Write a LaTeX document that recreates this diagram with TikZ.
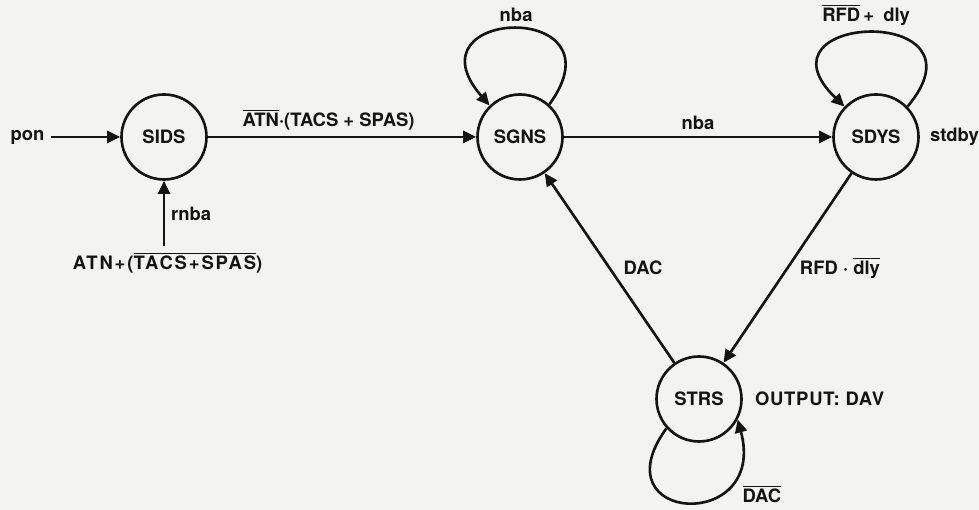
\documentclass[tikz,border=0pt]{standalone}
\usepackage{fontspec}
\setmainfont{TeX Gyre Heros}
\usetikzlibrary{arrows.meta,positioning,calc}
\definecolor{Ink}{HTML}{141414}
\definecolor{Paper}{HTML}{F3F3F1}
\newcommand{\Neg}[1]{$\overline{\mbox{#1}}$}

\begin{document}
\begin{tikzpicture}[
  state/.style={circle,draw=Ink,line width=1.5pt,minimum size=1.7cm,inner sep=0pt},
  trans/.style={draw=Ink,line width=1.5pt,-{Triangle[length=2.6mm,width=2.4mm]}},
  lbl/.style={font=\fontsize{10.5}{12}\selectfont\bfseries,text=Ink}
]
\fill[Paper] (0,0) rectangle (19.58,10.2);
\useasboundingbox (0,0) rectangle (19.58,10.2);
% states
\node[state,lbl] (SIDS) at (3.28,7.46) {SIDS};
\node[state,lbl] (SGNS) at (10.40,7.46) {SGNS};
\node[state,lbl] (SDYS) at (17.52,7.46) {SDYS};
\node[state,lbl] (STRS) at (13.98,2.22) {STRS};
% inputs and outputs
\node[lbl] (pon) at (0.55,7.46) {pon};
\node[lbl] (reset) at (3.35,4.94) {\addfontfeature{LetterSpace=10}ATN+(\Neg{TACS+SPAS})};
\node[lbl,right=0.08cm of SDYS] (stdby) {stdby};
\node[lbl,right=0.12cm of STRS] (output) {\addfontfeature{LetterSpace=4}OUTPUT: DAV};
% transitions
\draw[trans] (pon) -- (SIDS);
\draw[trans] (reset.north -| SIDS.south) -- node[lbl,right] {rnba} (SIDS);
\draw[trans] (SIDS) -- node[lbl,above,pos=0.45] {\Neg{ATN}\textperiodcentered(TACS + SPAS)} (SGNS);
\draw[trans] (SGNS) -- node[lbl,above] {nba} (SDYS);
\draw[trans] (SDYS) -- node[lbl,right=3pt] {RFD \textperiodcentered\ \Neg{dly}} (STRS);
\draw[trans] (STRS) -- node[lbl,right=4pt] {DAC} (SGNS);
% self loops
\draw[trans] (SGNS.48) to[out=54,in=131,distance=2.6cm] node[lbl,above] {nba} (SGNS.134);
\draw[trans] (SDYS.44) to[out=50,in=136,distance=2.7cm] node[lbl,above,xshift=-0.12cm] {\Neg{RFD}\,+\enspace dly} (SDYS.136);
\draw[trans] (STRS.222) to[out=234,in=-75,distance=2.35cm] node[lbl,pos=0.8,anchor=north west,yshift=-3pt] {\Neg{DAC}} (STRS.-28);
\end{tikzpicture}
\end{document}
